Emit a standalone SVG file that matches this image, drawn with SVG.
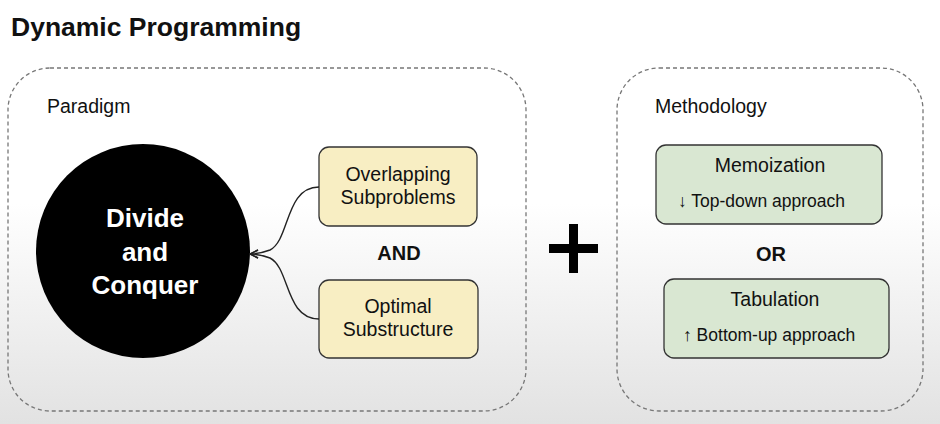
<svg xmlns="http://www.w3.org/2000/svg" width="940" height="424" viewBox="0 0 940 424">
<defs>
<linearGradient id="bg" x1="0" y1="0" x2="0" y2="1">
<stop offset="0" stop-color="#ffffff"/>
<stop offset="0.48" stop-color="#ffffff"/>
<stop offset="1" stop-color="#e2e2e2"/>
</linearGradient>
<marker id="arr" viewBox="0 0 10 10" refX="9" refY="5" markerWidth="10" markerHeight="10" markerUnits="userSpaceOnUse" orient="auto">
<path d="M1,1 L9,5 L1,9" fill="none" stroke="#222" stroke-width="1.5"/>
</marker>
<style>
text{font-family:"Liberation Sans",Arial,sans-serif;fill:#111}
.grp{fill:none;stroke:#777;stroke-width:1.3;stroke-dasharray:4 3}
.yel{fill:#f8eec3;stroke:#333;stroke-width:1.3}
.grn{fill:#d9e7d2;stroke:#333;stroke-width:1.3}
.lbl{font-size:19.5px}
.sub{font-size:17.5px}
.bt{font-size:20px;font-weight:bold}
.ctr{text-anchor:middle}
.con{fill:none;stroke:#222;stroke-width:1.4}
.big{font-size:26px;font-weight:bold;text-anchor:middle}
</style>
</defs>
<rect x="0" y="0" width="940" height="424" fill="url(#bg)"/>
<text x="11" y="36" font-size="26.5" font-weight="bold">Dynamic Programming</text>

<g id="paradigm">
<rect class="grp" x="8" y="68" width="518" height="343" rx="42"/>
<text class="lbl" x="47" y="113">Paradigm</text>
</g>
<g id="divide">
<circle cx="143" cy="251" r="107" fill="#000"/>
<text class="big" x="145" y="227" style="fill:#fff">Divide</text>
<text class="big" x="145" y="261" style="fill:#fff">and</text>
<text class="big" x="145" y="294" style="fill:#fff">Conquer</text>
</g>
<g id="overlapping">
<rect class="yel" x="319" y="147" width="158" height="79" rx="10"/>
<text class="lbl ctr" x="398" y="181">Overlapping</text>
<text class="lbl ctr" x="398" y="204">Subproblems</text>
</g>
<g id="and">
<text class="bt ctr" x="399" y="260">AND</text>
</g>
<g id="optimal">
<rect class="yel" x="319" y="280" width="159" height="78" rx="10"/>
<text class="lbl ctr" x="398" y="313">Optimal</text>
<text class="lbl ctr" x="398" y="336">Substructure</text>
</g>
<g id="plus">
<rect x="549" y="244" width="49" height="9" fill="#000"/>
<rect x="569" y="224" width="9" height="49" fill="#000"/>
</g>
<g id="methodology">
<rect class="grp" x="617" y="68" width="306" height="343" rx="42"/>
<text class="lbl" x="655" y="113">Methodology</text>
</g>
<g id="memoization">
<rect class="grn" x="656" y="145" width="226" height="79" rx="10"/>
<text class="lbl ctr" x="770" y="172">Memoization</text>
<text class="sub" x="678" y="207">↓ Top-down approach</text>
</g>
<g id="or">
<text class="bt ctr" x="771" y="261">OR</text>
</g>
<g id="tabulation">
<rect class="grn" x="664" y="279" width="225" height="79" rx="10"/>
<text class="lbl ctr" x="775" y="306">Tabulation</text>
<text class="sub" x="683" y="341">↑ Bottom-up approach</text>
</g>
<g id="connectors">
<path class="con" d="M319,187 C285,187 290,240 270,250 C262,253 258,254 250,254" marker-end="url(#arr)"/>
<path class="con" d="M319,319 C285,319 290,268 270,258 C262,255 258,254 250,254" marker-end="url(#arr)"/>
</g>
</svg>
